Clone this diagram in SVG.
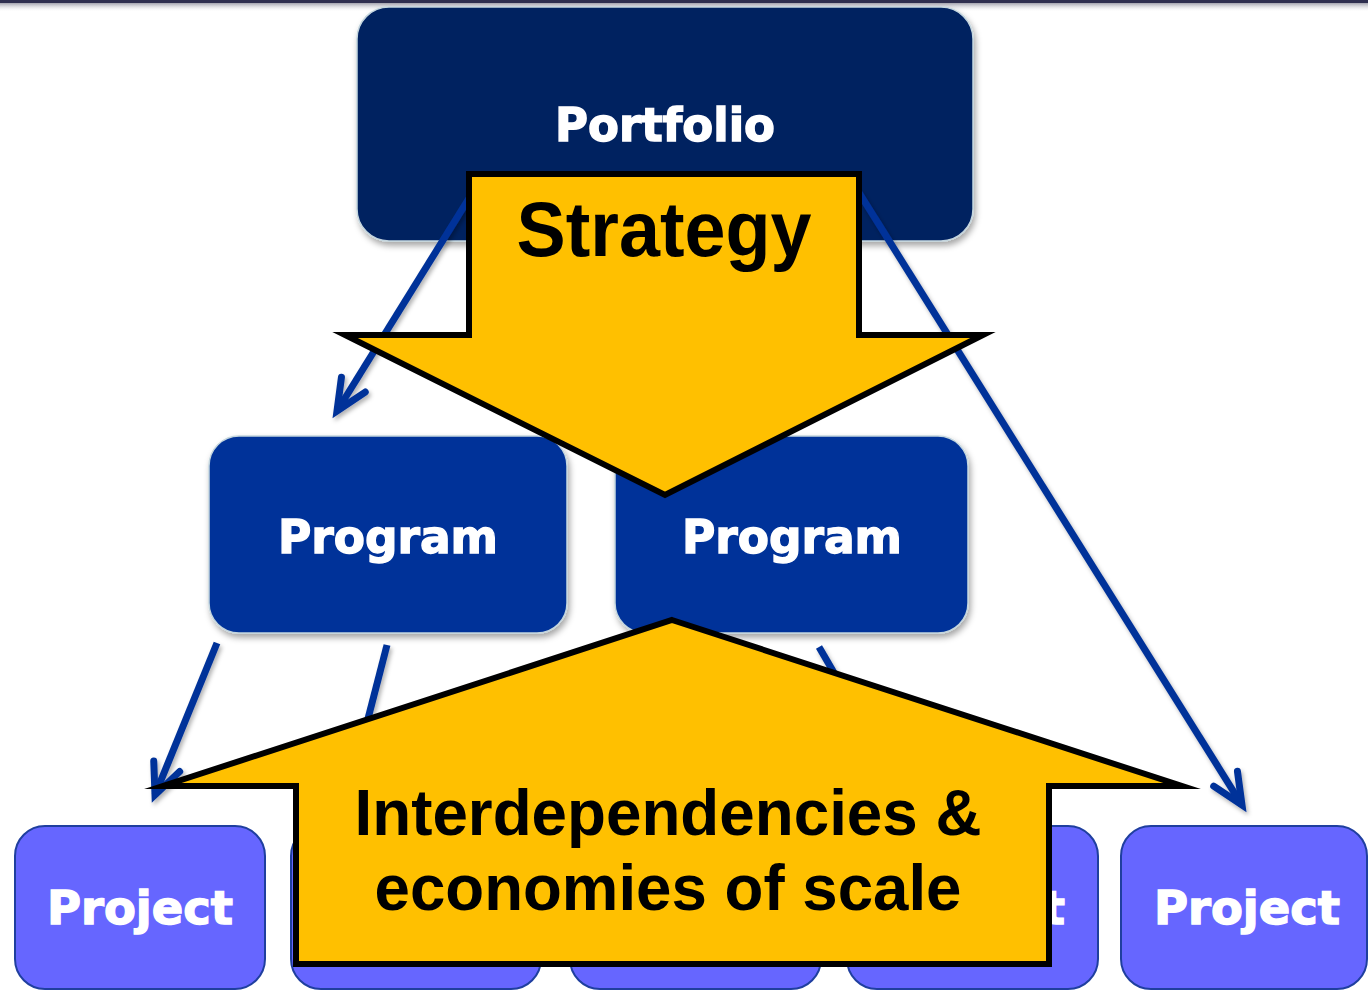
<svg xmlns="http://www.w3.org/2000/svg" width="1368" height="991" viewBox="0 0 1368 991">
  <defs>
    <linearGradient id="topShade" x1="0" y1="0" x2="0" y2="1">
      <stop offset="0" stop-color="#7a7a8a" stop-opacity="0.7"/>
      <stop offset="1" stop-color="#ffffff" stop-opacity="0"/>
    </linearGradient>
    <filter id="boxShadow" x="-10%" y="-10%" width="125%" height="130%">
      <feDropShadow dx="2" dy="4" stdDeviation="3" flood-color="#000" flood-opacity="0.35"/>
    </filter>
    <filter id="lineShadow" x="-20%" y="-20%" width="140%" height="140%">
      <feDropShadow dx="2" dy="3" stdDeviation="2" flood-color="#000" flood-opacity="0.3"/>
    </filter>
    <clipPath id="visibleRight">
      <rect x="1052" y="826" width="60" height="163"/>
    </clipPath>
    <marker id="openArrow" markerUnits="userSpaceOnUse" markerWidth="60" markerHeight="60" viewBox="-45 -30 60 60" refX="0" refY="0" orient="auto">
      <path d="M-31,-14 L0,0 L-31,14" fill="none" stroke="#003399" stroke-width="7" stroke-linecap="round" stroke-linejoin="miter" stroke-miterlimit="10"/>
    </marker>
    <style>
      .portfolio { fill: #002060; stroke: #c4d6de; stroke-width: 1.5; }
      .program { fill: #003399; stroke: #c4d6de; stroke-width: 1.5; }
      .project { fill: #6666FF; stroke: #1f3f9f; stroke-width: 2; }
      .lbl { font-family: "DejaVu Sans", "Liberation Sans", sans-serif; font-weight: bold; fill: #ffffff; stroke: #ffffff; stroke-width: 1.4; text-anchor: middle; }
      .conn { fill: none; stroke: #003399; stroke-width: 7; stroke-linecap: butt; }
      .bigArrow { fill: #FFC000; stroke: #000000; stroke-width: 6; stroke-linejoin: miter; stroke-miterlimit: 10; }
      .bigText { font-family: "Liberation Sans", Arial, sans-serif; font-weight: bold; fill: #000000; text-anchor: middle; }
    </style>
  </defs>

  <rect x="0" y="0" width="1368" height="991" fill="#ffffff"/>
  <rect x="0" y="3" width="1368" height="9" fill="url(#topShade)"/>
  <rect x="0" y="0" width="1368" height="3" fill="#2f2f4f"/>

  <g id="portfolio" filter="url(#boxShadow)">
    <rect class="portfolio" x="357" y="7" width="616" height="234" rx="32" ry="32"/>
    <text class="lbl" x="665" y="141" font-size="46" textLength="220" lengthAdjust="spacingAndGlyphs">Portfolio</text>
  </g>

  <g id="program-left" filter="url(#boxShadow)">
    <rect class="program" x="209" y="436" width="358" height="197" rx="30" ry="30"/>
    <text class="lbl" x="388" y="553" font-size="47" textLength="220" lengthAdjust="spacingAndGlyphs">Program</text>
  </g>

  <g id="program-right" filter="url(#boxShadow)">
    <rect class="program" x="615" y="436" width="353" height="197" rx="30" ry="30"/>
    <text class="lbl" x="792" y="553" font-size="47" textLength="220" lengthAdjust="spacingAndGlyphs">Program</text>
  </g>

  <g id="project-1">
    <rect class="project" x="15" y="826" width="250" height="163" rx="30" ry="30"/>
    <text class="lbl" x="140" y="924" font-size="47" textLength="186" lengthAdjust="spacingAndGlyphs">Project</text>
  </g>
  <g id="project-2">
    <rect class="project" x="291" y="826" width="250" height="163" rx="30" ry="30"/>
  </g>
  <g id="project-3">
    <rect class="project" x="570" y="826" width="251" height="163" rx="30" ry="30"/>
  </g>
  <g id="project-4">
    <rect class="project" x="847" y="826" width="251" height="163" rx="30" ry="30"/>
    <text class="lbl" x="972" y="924" font-size="47" textLength="186" lengthAdjust="spacingAndGlyphs" clip-path="url(#visibleRight)">Project</text>
  </g>
  <g id="project-5">
    <rect class="project" x="1121" y="826" width="246" height="163" rx="30" ry="30"/>
    <text class="lbl" x="1247" y="924" font-size="47" textLength="186" lengthAdjust="spacingAndGlyphs">Project</text>
  </g>

  <g id="connectors" filter="url(#lineShadow)">
    <line class="conn" x1="476" y1="187" x2="337" y2="411" marker-end="url(#openArrow)"/>
    <line class="conn" x1="858" y1="191" x2="1242" y2="805" marker-end="url(#openArrow)"/>
    <line class="conn" x1="217" y1="643" x2="155" y2="795" marker-end="url(#openArrow)"/>
    <line class="conn" x1="387" y1="645" x2="347" y2="800" marker-end="url(#openArrow)"/>
    <line class="conn" x1="819" y1="647" x2="905" y2="795" marker-end="url(#openArrow)"/>
  </g>

  <g id="strategy-arrow">
    <polygon class="bigArrow" points="469,174 859,174 859,335 983,335 665,495 345,335 469,335"/>
    <text class="bigText" x="664" y="256" font-size="77" textLength="295" lengthAdjust="spacingAndGlyphs">Strategy</text>
  </g>

  <g id="interdependencies-arrow">
    <polygon class="bigArrow" points="672,620 1182,786 1049,786 1049,964 296,964 296,786 163,786"/>
    <text class="bigText" x="668" y="835" font-size="64" textLength="627" lengthAdjust="spacingAndGlyphs">Interdependencies &amp;</text>
    <text class="bigText" x="668" y="910" font-size="64" textLength="587" lengthAdjust="spacingAndGlyphs">economies of scale</text>
  </g>
</svg>
